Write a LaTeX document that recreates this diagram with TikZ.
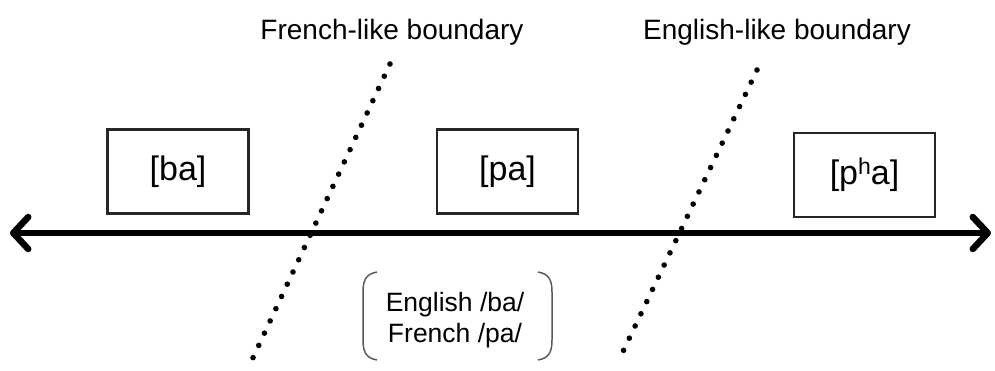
\documentclass[tikz,border=0pt]{standalone}
\usepackage{fontspec}
\setmainfont{Liberation Sans}
\usetikzlibrary{arrows.meta}
\begin{document}
\begin{tikzpicture}[x=1pt,y=-1pt,
  soundbox/.style={draw=black!85,line width=2.3pt,minimum width=141pt,minimum height=84pt,inner sep=0pt,font=\fontsize{34}{38}\selectfont},
  bound/.style={line width=5.6pt,line cap=round,dash pattern=on 0pt off 13.5pt},
  lbl/.style={font=\fontsize{28}{32}\selectfont,inner sep=0pt},
  brk/.style={draw=black!65,line width=1.5pt},
  axisline/.style={line width=6pt,{Straight Barb[length=15pt,width=32pt,line width=6.5pt,round]}-{Straight Barb[length=15pt,width=32pt,line width=6.5pt,round]}}]
\useasboundingbox (0,0) rectangle (995,370);
% axis
\coordinate (L) at (10,233);
\coordinate (R) at (991,233);
\draw[axisline] (L) -- (R);
% boxes
\node[soundbox] (ba) at (178,171.5) {[ba]};
\node[soundbox] (pa) at (507.5,171.5) {[pa]};
\node[soundbox] (pha) at (864.5,175) {[p\raisebox{0.55ex}{\fontsize{23}{25}\selectfont h}a]};
% boundaries
\coordinate (f1) at (390,64);
\coordinate (f2) at (251,362);
\coordinate (e1) at (757,70);
\coordinate (e2) at (618,362);
\draw[bound] (f1) -- (f2);
\draw[bound] (e1) -- (e2);
% labels
\node[lbl] (flab) at (392,32) {French-like boundary};
\node[lbl] (elab) at (777,32) {English-like boundary};
% note
\node[lbl,align=center,font=\fontsize{26.5}{31}\selectfont] (note) at (455,320) {English /ba/\\French /pa/};
\draw[brk] (377,272) .. controls (366,274) and (363,280) .. (363,292) -- (363,340) .. controls (363,352) and (366,358) .. (377,360);
\draw[brk] (538,272) .. controls (549,274) and (552,280) .. (552,292) -- (552,340) .. controls (552,352) and (549,358) .. (538,360);
\end{tikzpicture}
\end{document}
